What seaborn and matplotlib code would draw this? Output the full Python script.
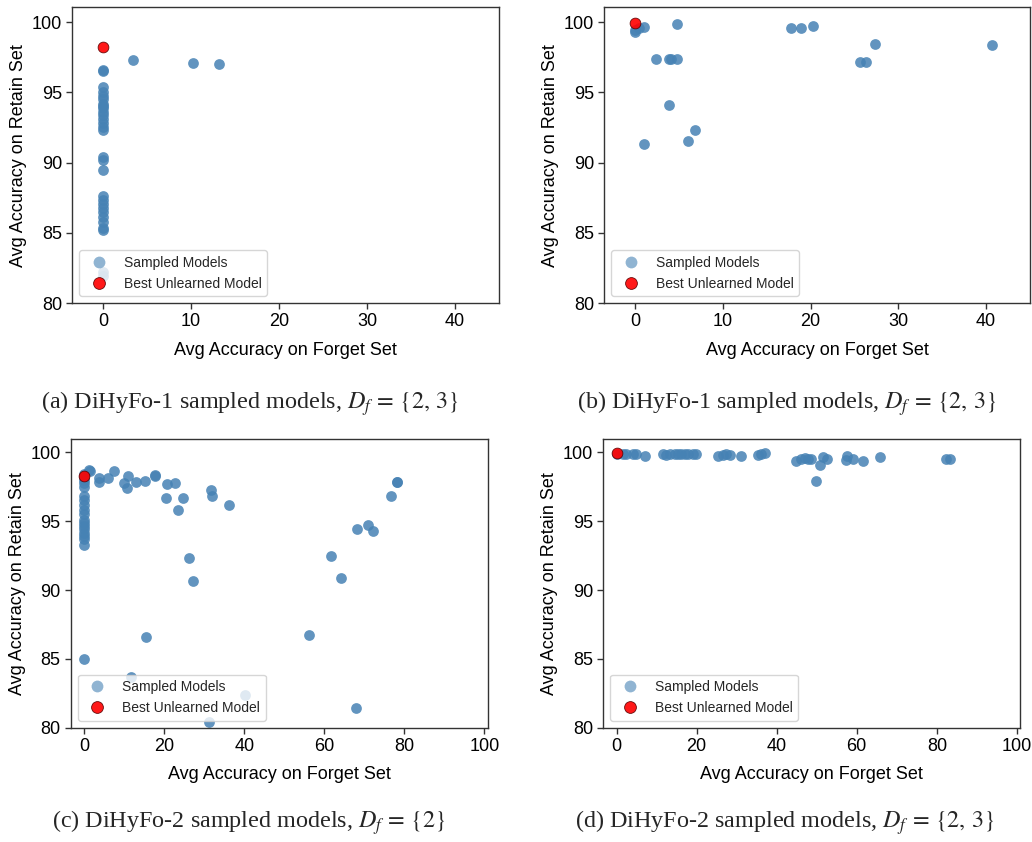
import numpy as np
import pandas as pd
import matplotlib
matplotlib.use("Agg")
import matplotlib.pyplot as plt
from matplotlib.lines import Line2D
import seaborn as sns

# ---------------- data ----------------
# (a) DiHyFo-1, Df={2,3}
a_forget = [0]*27 + [3.4, 10.2, 13.2, 0, 0, 31.4]
a_retain = [96.6, 96.5, 95.35, 95.05, 94.75, 94.5, 94.2, 94.0, 93.85, 93.6, 93.4, 93.1,
            92.8, 92.55, 92.3, 90.4, 90.2, 89.5, 87.6, 87.35, 87.05, 86.75, 86.45, 86.15,
            85.75, 85.35, 85.2, 97.3, 97.1, 97.0, 82.2, 81.9, 79.6]
a_best = (0.0, 98.2)

# (b) DiHyFo-1, Df={2,3}
b_forget = [0, 0, 0.5, 1.0, 4.75, 17.8, 18.9, 20.3, 27.3, 40.7, 2.4, 3.9, 4.1, 4.8,
            25.6, 26.3, 3.9, 6.8, 6.0, 1.0]
b_retain = [99.4, 99.3, 99.6, 99.65, 99.85, 99.55, 99.55, 99.75, 98.45, 98.35, 97.4,
            97.35, 97.35, 97.35, 97.15, 97.15, 94.1, 92.35, 91.55, 91.3]
b_best = (0.0, 99.9)

# (c) DiHyFo-2, Df={2}
c_forget = [0]*19 + [1.1, 1.5, 3.8, 3.8, 5.9, 7.5, 10.0, 10.9, 10.8, 13.0, 15.1, 17.6,
                     17.75, 20.7, 22.8, 20.5, 24.7, 23.4, 31.7, 31.9, 36.25, 26.2, 27.3,
                     15.5, 56.2, 61.8, 64.2, 68.1, 70.9, 72.3, 76.75, 78.2, 78.2, 11.75,
                     40.1, 67.9, 31.2]
c_retain = [98.45, 98.2, 98.0, 97.75, 97.45, 96.8, 96.55, 96.15, 95.8, 95.55, 95.1, 94.9,
            94.65, 94.4, 94.15, 93.9, 93.7, 93.3, 85.0,
            98.75, 98.65, 98.15, 97.85, 98.15, 98.65, 97.8, 98.25, 97.4, 97.85, 97.95, 98.35,
            98.25, 97.7, 97.8, 96.7, 96.7, 95.8, 97.25, 96.8, 96.2, 92.3, 90.65,
            86.6, 86.75, 92.45, 90.85, 94.4, 94.75, 94.3, 96.8, 97.85, 97.85, 83.7,
            82.4, 81.4, 80.4]
c_best = (0.0, 98.3)

# (d) DiHyFo-2, Df={2,3}
d_forget = [0, 1.6, 2.4, 4.1, 4.75, 7.2, 11.6, 12.4, 13.25, 14.5, 15.3, 16.2, 17.0, 17.8,
            19.1, 19.9, 25.3, 26.6, 27.4, 28.25, 31.0, 35.3, 36.2, 37.0, 44.9, 46.2, 47.0,
            47.8, 48.7, 49.9, 50.9, 51.6, 52.6, 57.4, 57.6, 59.1, 61.6, 65.9, 82.25, 83.25]
d_retain = [99.85, 99.9, 99.85, 99.9, 99.88, 99.75, 99.85, 99.8, 99.88, 99.85, 99.9, 99.88,
            99.9, 99.85, 99.88, 99.85, 99.7, 99.8, 99.9, 99.78, 99.73, 99.8, 99.85, 99.92,
            99.4, 99.55, 99.6, 99.5, 99.55, 97.9, 99.05, 99.65, 99.5, 99.45, 99.7, 99.5,
            99.4, 99.65, 99.55, 99.55]
d_best = (0.0, 99.92)

captions = [r"(a) DiHyFo-1 sampled models, $D_f\,=\,\{2,\,3\}$",
            r"(b) DiHyFo-1 sampled models, $D_f\,=\,\{2,\,3\}$",
            r"(c) DiHyFo-2 sampled models, $D_f\,=\,\{2\}$",
            r"(d) DiHyFo-2 sampled models, $D_f\,=\,\{2,\,3\}$"]
x_label = "Avg Accuracy on Forget Set"
y_label = "Avg Accuracy on Retain Set"
legend_labels = ["Sampled Models", "Best Unlearned Model"]

# ---------------- style ----------------
sns.set_theme(style="ticks")
plt.rcParams['font.family'] = ['Liberation Sans', 'DejaVu Sans']
plt.rcParams['mathtext.fontset'] = 'stix'
plt.rcParams['axes.edgecolor'] = '0.2'
plt.rcParams['axes.linewidth'] = 1.0
plt.rcParams['axes.labelcolor'] = 'black'
plt.rcParams['xtick.major.size'] = 4.5
plt.rcParams['ytick.major.size'] = 4.5
plt.rcParams['xtick.major.width'] = 1.0
plt.rcParams['ytick.major.width'] = 1.0
plt.rcParams['xtick.color'] = '0.2'
plt.rcParams['ytick.color'] = '0.2'
plt.rcParams['xtick.labelcolor'] = 'black'
plt.rcParams['ytick.labelcolor'] = 'black'

W, H = 1032, 842
fig = plt.figure(figsize=(W/100, H/100), dpi=100)

def ax_at(l, r, t, b):
    return fig.add_axes([l/W, 1 - b/H, (r - l)/W, (b - t)/H])

panels = [
    (ax_at(72.3, 499, 7.3, 303), a_forget, a_retain, a_best, (-3.5, 45), [0, 10, 20, 30, 40], (80, 101.05)),
    (ax_at(604.3, 1030, 7.3, 303), b_forget, b_retain, b_best, (-3.5, 45), [0, 10, 20, 30, 40], (80, 101.05)),
    (ax_at(71, 487.7, 439, 727.7), c_forget, c_retain, c_best, (-3.3, 100.85), [0, 20, 40, 60, 80, 100], (80, 100.97)),
    (ax_at(603.3, 1020.3, 439, 727.7), d_forget, d_retain, d_best, (-3.3, 100.85), [0, 20, 40, 60, 80, 100], (80, 100.97)),
]

for ax, fx, ry, best, xl, xt, yl in panels:
    df = pd.DataFrame({"forget": fx, "retain": ry})
    sns.scatterplot(data=df, x="forget", y="retain", ax=ax, color="steelblue",
                    alpha=0.85, s=60, linewidth=0, legend=False)
    bdf = pd.DataFrame({"forget": [best[0]], "retain": [best[1]]})
    sns.scatterplot(data=bdf, x="forget", y="retain", ax=ax, color="red",
                    alpha=0.9, s=60, edgecolor="#5a0000", linewidth=0.6, legend=False)
    ax.set_xlim(*xl)
    ax.set_ylim(*yl)
    ax.set_xticks(xt)
    ax.set_yticks([80, 85, 90, 95, 100])
    ax.tick_params(labelsize=13, pad=3)
    ax.set_xlabel(x_label, fontsize=13, labelpad=8)
    ax.set_ylabel(y_label, fontsize=13, labelpad=3)
    handles = [
        Line2D([], [], linestyle='none', marker='o', markersize=8.5,
               markerfacecolor='steelblue', markeredgewidth=0, alpha=0.6),
        Line2D([], [], linestyle='none', marker='o', markersize=8.5,
               markerfacecolor='red', markeredgecolor='#5a0000', markeredgewidth=0.6, alpha=0.9),
    ]
    ax.legend(handles, legend_labels, loc='lower left', fontsize=10, frameon=True)

cap_pos = [(250, 404), (787, 404), (249, 823), (785, 823)]
for (cx, cy), cap in zip(cap_pos, captions):
    fig.text(cx/W, 1 - cy/H, cap, ha='center', va='center', fontsize=17.4,
             family=['Liberation Serif', 'DejaVu Serif'])

fig.savefig("out.png", dpi=100)
